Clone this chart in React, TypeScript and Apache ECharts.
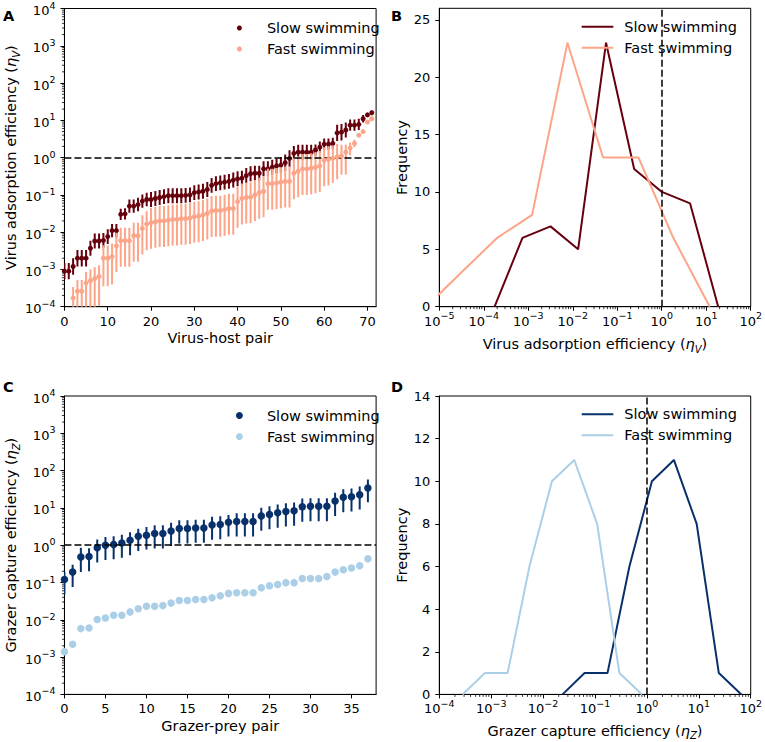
import React, { useEffect, useRef } from "react";
import * as echarts from "echarts";

const FONT = "'DejaVu Sans', sans-serif";
const TICK_FS = 13;
const SUP_FS = 9.5;
const TITLE_FS = 14.5;

const legendLabels = ["Slow swimming", "Fast swimming"];

// ---------- Panel A: virus adsorption efficiency per virus-host pair ----------
const virusSlow = [
  0.0009, 0.0009, 0.0012, 0.002, 0.002, 0.002, 0.0037, 0.0058, 0.0058, 0.006,
  0.0076, 0.011, 0.011, 0.03, 0.031, 0.05, 0.05, 0.055, 0.068, 0.075,
  0.075, 0.08, 0.085, 0.09, 0.095, 0.095, 0.095, 0.095, 0.097, 0.1,
  0.115, 0.12, 0.125, 0.14, 0.18, 0.2, 0.21, 0.22, 0.23, 0.25,
  0.27, 0.28, 0.33, 0.37, 0.38, 0.38, 0.5, 0.5, 0.55, 0.6,
  0.63, 0.73, 0.95, 1.3, 1.4, 1.4, 1.4, 1.4, 1.6, 1.9,
  2.3, 2.3, 2.4, 4.6, 4.8, 5.5, 7.4, 7.4, 7.8, 11,
  14, 16,
];
const virusFast = [
  null, null, 0.00017, 0.00026, 0.00026, 0.00043, 0.0005, 0.00057, 0.00065, 0.002,
  0.002, 0.0022, 0.0043, 0.0059, 0.0059, 0.0059, 0.008, 0.008, 0.0126, 0.0165,
  0.018, 0.019, 0.02, 0.02, 0.021, 0.022, 0.022, 0.023, 0.023, 0.024,
  0.026, 0.027, 0.029, 0.032, 0.037, 0.038, 0.038, 0.04, 0.043, 0.043,
  0.066, 0.08, 0.085, 0.087, 0.1, 0.115, 0.125, 0.2, 0.2, 0.21,
  0.22, 0.23, 0.23, 0.38, 0.43, 0.5, 0.5, 0.52, 0.55, 0.6,
  0.85, 0.9, 0.95, 1.05, 1.1, 1.4, 1.8, 2.4, 4.0, 5.0,
  9.0, 11,
];
// error bar half-widths, in decades
const virusSlowErr = [
  0.22, 0.22, 0.22, 0.22, 0.22, 0.22, 0.2, 0.2, 0.2, 0.2,
  0.2, 0.18, 0.18, 0.15, 0.15, 0.18, 0.18, 0.18, 0.18, 0.18,
  0.2, 0.2, 0.2, 0.2, 0.2, 0.2, 0.2, 0.2, 0.2, 0.2,
  0.2, 0.2, 0.2, 0.2, 0.2, 0.2, 0.2, 0.2, 0.2, 0.2,
  0.2, 0.2, 0.2, 0.2, 0.2, 0.2, 0.2, 0.2, 0.2, 0.2,
  0.22, 0.22, 0.22, 0.2, 0.2, 0.2, 0.2, 0.2, 0.15, 0.15,
  0.15, 0.15, 0.15, 0.22, 0.22, 0.2, 0.15, 0.15, 0.15, 0.1,
  0.05, 0.05,
];
const virusFastErrUp = [
  0, 0, 0.3, 0.3, 0.3, 0.3, 0.3, 0.3, 0.3, 0.35,
  0.35, 0.35, 0.35, 0.35, 0.35, 0.35, 0.35, 0.35, 0.35, 0.35,
  0.4, 0.4, 0.4, 0.4, 0.4, 0.4, 0.4, 0.4, 0.4, 0.4,
  0.4, 0.4, 0.4, 0.4, 0.4, 0.4, 0.4, 0.4, 0.4, 0.4,
  0.4, 0.4, 0.4, 0.4, 0.4, 0.4, 0.4, 0.4, 0.4, 0.4,
  0.4, 0.4, 0.4, 0.4, 0.4, 0.4, 0.4, 0.4, 0.4, 0.4,
  0.35, 0.35, 0.35, 0.35, 0.3, 0.2, 0.15, 0.1, 0.05, 0.05,
  0.05, 0.05,
];
const virusFastErrDown = [
  0, 0, 0.8, 0.8, 0.8, 0.8, 0.8, 0.8, 0.8, 0.75,
  0.75, 0.75, 0.7, 0.7, 0.7, 0.7, 0.7, 0.7, 0.7, 0.7,
  0.7, 0.7, 0.7, 0.7, 0.7, 0.7, 0.7, 0.7, 0.7, 0.7,
  0.7, 0.7, 0.7, 0.7, 0.7, 0.7, 0.7, 0.7, 0.7, 0.7,
  0.7, 0.7, 0.7, 0.7, 0.7, 0.7, 0.7, 0.7, 0.7, 0.7,
  0.7, 0.7, 0.7, 0.7, 0.7, 0.7, 0.7, 0.7, 0.7, 0.7,
  0.7, 0.7, 0.65, 0.6, 0.5, 0.6, 0.2, 0.1, 0.05, 0.05,
  0.05, 0.05,
];
const virusPairTicks = [0, 10, 20, 30, 40, 50, 60, 70];

// ---------- Panel B: histogram of virus adsorption efficiency ----------
const virusHistSlowX = [1.75e-4, 7.4e-4, 3.16e-3, 1.32e-2, 5.6e-2, 0.24, 1.01, 4.34, 18.6];
const virusHistSlowY = [0, 6, 7, 5, 23, 12, 10, 9, 0];
const virusHistFastX = [5.1e-6, 3.16e-5, 2.0e-4, 1.22e-3, 7.6e-3, 4.8e-2, 0.3, 1.82, 12.0];
const virusHistFastY = [0, 3, 6, 8, 23, 13, 13, 6, 0];
const freqTicksB = [0, 5, 10, 15, 20, 25];

// ---------- Panel C: grazer capture efficiency per grazer-prey pair ----------
const grazerSlow = [
  0.12, 0.19, 0.48, 0.5, 0.86, 1.0, 1.05, 1.15, 1.35, 1.75,
  1.85, 2.05, 2.05, 2.4, 2.8, 2.8, 2.9, 2.9, 3.5, 3.6,
  4.1, 4.3, 4.3, 4.3, 6.1, 6.7, 7.4, 8.0, 8.4, 10.7,
  11, 11, 11, 15.3, 19.2, 20, 22.6, 34,
];
const grazerFast = [
  0.0014, 0.0022, 0.0058, 0.006, 0.0102, 0.0112, 0.0133, 0.0133, 0.0163, 0.0197,
  0.023, 0.023, 0.024, 0.028, 0.033, 0.033, 0.035, 0.035, 0.039, 0.044,
  0.051, 0.053, 0.053, 0.053, 0.0725, 0.082, 0.088, 0.099, 0.099, 0.128,
  0.128, 0.128, 0.145, 0.19, 0.22, 0.245, 0.28, 0.43,
];
const grazerSlowErrUp = [
  0.2, 0.2, 0.25, 0.22, 0.22, 0.22, 0.22, 0.22, 0.22, 0.2,
  0.22, 0.22, 0.22, 0.22, 0.22, 0.22, 0.22, 0.22, 0.22, 0.22,
  0.2, 0.22, 0.22, 0.22, 0.22, 0.22, 0.22, 0.22, 0.22, 0.22,
  0.22, 0.22, 0.22, 0.22, 0.22, 0.22, 0.22, 0.23,
];
const grazerSlowErrDown = [
  0.4, 0.4, 0.4, 0.4, 0.4, 0.4, 0.4, 0.4, 0.4, 0.4,
  0.38, 0.4, 0.4, 0.4, 0.4, 0.4, 0.4, 0.4, 0.4, 0.4,
  0.38, 0.4, 0.4, 0.4, 0.4, 0.4, 0.4, 0.4, 0.4, 0.4,
  0.4, 0.4, 0.4, 0.4, 0.4, 0.4, 0.4, 0.38,
];
const grazerPairTicks = [0, 5, 10, 15, 20, 25, 30, 35];

// ---------- Panel D: histogram of grazer capture efficiency ----------
const grazerHistSlowX = [0.0237, 0.063, 0.174, 0.46, 1.25, 3.31, 9.1, 24.3, 66];
const grazerHistSlowY = [0, 1, 1, 6, 10, 11, 8, 1, 0];
const grazerHistFastX = [2.8e-4, 7.6e-4, 2.07e-3, 5.45e-3, 0.0148, 0.0398, 0.11, 0.295, 0.805];
const grazerHistFastY = [0, 1, 1, 6, 10, 11, 8, 1, 0];

const COLORS = {
  virusSlow: "#67000d",
  virusFast: "#fca588",
  grazerSlow: "#08306b",
  grazerFast: "#abcfe6",
};

// ---------------- helpers ----------------
const supLabel = (v: number) => {
  const e = Math.round(Math.log10(v));
  return `{b|10}{sup|${e < 0 ? "\u2212" + -e : e}}`;
};
const supRich = {
  b: { fontSize: TICK_FS, fontFamily: FONT, color: "#000", verticalAlign: "bottom" },
  sup: { fontSize: SUP_FS, fontFamily: FONT, color: "#000", verticalAlign: "top" },
};
const logAxisLabel = (margin: number) => ({
  formatter: supLabel,
  rich: supRich,
  lineHeight: 17,
  fontSize: TICK_FS,
  fontFamily: FONT,
  color: "#000",
  margin,
});
const plainAxisLabel = (margin: number, customValues?: number[]) => ({
  fontSize: TICK_FS,
  fontFamily: FONT,
  color: "#000",
  margin,
  ...(customValues ? { customValues } : {}),
});
const axisLine = { show: true, onZero: false, lineStyle: { color: "#000", width: 1 } };
const tick = (customValues?: number[]) => ({
  show: true,
  inside: false,
  length: 4,
  lineStyle: { color: "#000", width: 1 },
  ...(customValues ? { customValues } : {}),
});
const plainName = { fontSize: TITLE_FS, fontFamily: FONT, color: "#000" };
const subName = {
  fontSize: TITLE_FS,
  fontFamily: FONT,
  color: "#000",
  lineHeight: 20,
  rich: {
    t: { fontSize: TITLE_FS, fontFamily: FONT, color: "#000", verticalAlign: "middle" },
    i: { fontSize: TITLE_FS, fontFamily: FONT, color: "#000", fontStyle: "italic", verticalAlign: "middle" },
    s: { fontSize: 10, fontFamily: FONT, color: "#000", fontStyle: "italic", verticalAlign: "bottom" },
  },
};

const toPoints = (vals: (number | null)[]) =>
  vals.map((v, i) => (v == null ? null : [i, v])).filter((p) => p !== null) as number[][];

const errorBars = (
  idx: number,
  vals: (number | null)[],
  up: number[],
  down: number[],
  color: string,
  z: number
) => ({
  type: "custom",
  xAxisIndex: idx,
  yAxisIndex: idx,
  clip: true,
  silent: true,
  z,
  data: vals
    .map((v, i) => (v == null ? null : [i, v / Math.pow(10, down[i]), v * Math.pow(10, up[i])]))
    .filter((p) => p !== null),
  encode: { x: 0, y: [1, 2] },
  renderItem: (_p: any, api: any) => {
    const x = api.value(0);
    const a = api.coord([x, api.value(1)]);
    const b = api.coord([x, api.value(2)]);
    return {
      type: "line",
      shape: { x1: a[0], y1: a[1], x2: b[0], y2: b[1] },
      style: { stroke: color, lineWidth: 2 },
    };
  },
});

const minorTicksY = (idx: number, xMin: number, eMin: number, eMax: number) => ({
  type: "custom",
  xAxisIndex: idx,
  yAxisIndex: idx,
  clip: false,
  silent: true,
  z: 1,
  data: [[xMin, 1]],
  encode: { x: 0, y: 1 },
  renderItem: (_p: any, api: any) => {
    const children: any[] = [];
    for (let k = eMin; k < eMax; k++) {
      for (let m = 2; m <= 9; m++) {
        const p = api.coord([xMin, m * Math.pow(10, k)]);
        children.push({
          type: "line",
          shape: { x1: p[0] - 2.5, y1: p[1], x2: p[0], y2: p[1] },
          style: { stroke: "#000", lineWidth: 0.8 },
        });
      }
    }
    return { type: "group", children };
  },
});

const minorTicksX = (idx: number, yMin: number, eMin: number, eMax: number) => ({
  type: "custom",
  xAxisIndex: idx,
  yAxisIndex: idx,
  clip: false,
  silent: true,
  z: 1,
  data: [[1, yMin]],
  encode: { x: 0, y: 1 },
  renderItem: (_p: any, api: any) => {
    const children: any[] = [];
    for (let k = eMin; k < eMax; k++) {
      for (let m = 2; m <= 9; m++) {
        const p = api.coord([m * Math.pow(10, k), yMin]);
        children.push({
          type: "line",
          shape: { x1: p[0], y1: p[1], x2: p[0], y2: p[1] + 2.5 },
          style: { stroke: "#000", lineWidth: 0.8 },
        });
      }
    }
    return { type: "group", children };
  },
});

const dashed = { type: [7, 3] as any, color: "#000", width: 1.5 };
const refLine = (idx: number, spec: any) => ({
  type: "line",
  xAxisIndex: idx,
  yAxisIndex: idx,
  data: [],
  z: 10,
  silent: true,
  markLine: {
    silent: true,
    symbol: ["none", "none"],
    label: { show: false },
    lineStyle: dashed,
    data: [spec],
  },
});

const legendFmt = (name: string) => (name.endsWith("slow") ? legendLabels[0] : legendLabels[1]);
const legendText = { fontSize: TITLE_FS, fontFamily: FONT, color: "#000", lineHeight: 16 };

const L1 = 62.7;
const L2 = 439.3;
const W = 313.4;
const T1 = 8.3;
const T2 = 396;
const H = 298.4;

export default function App() {
  const ref = useRef<HTMLDivElement>(null);
  useEffect(() => {
    document.body.style.margin = "0";
    if (!ref.current) return;
    const chart = echarts.init(ref.current, undefined, { renderer: "svg" });
    const option: any = {
      animation: false,
      backgroundColor: "#fff",
      textStyle: { fontFamily: FONT },
      grid: [
        { left: L1, top: T1, width: W, height: H, show: true, borderColor: "#000", borderWidth: 1 },
        { left: L2, top: T1, width: W, height: H, show: true, borderColor: "#000", borderWidth: 1 },
        { left: L1, top: T2, width: W, height: H, show: true, borderColor: "#000", borderWidth: 1 },
        { left: L2, top: T2, width: W, height: H, show: true, borderColor: "#000", borderWidth: 1 },
      ],
      xAxis: [
        {
          gridIndex: 0, type: "value", min: 0, max: 72,
          axisLine, axisTick: tick(virusPairTicks), axisLabel: plainAxisLabel(8, virusPairTicks),
          splitLine: { show: false },
          name: "Virus-host pair", nameLocation: "middle", nameGap: 23.5, nameTextStyle: plainName,
        },
        {
          gridIndex: 1, type: "log", logBase: 10, min: 1e-5, max: 1e2,
          axisLine, axisTick: tick(), axisLabel: logAxisLabel(4),
          splitLine: { show: false }, minorTick: { show: false },
          name: "{t|Virus adsorption efficiency (}{i|\u03b7}{s|V}{t|)}", nameLocation: "middle", nameGap: 27.5,
          nameTextStyle: subName,
        },
        {
          gridIndex: 2, type: "value", min: 0, max: 38,
          axisLine, axisTick: tick(grazerPairTicks), axisLabel: plainAxisLabel(8, grazerPairTicks),
          splitLine: { show: false },
          name: "Grazer-prey pair", nameLocation: "middle", nameGap: 24, nameTextStyle: plainName,
        },
        {
          gridIndex: 3, type: "log", logBase: 10, min: 1e-4, max: 1e2,
          axisLine, axisTick: tick(), axisLabel: logAxisLabel(4),
          splitLine: { show: false }, minorTick: { show: false },
          name: "{t|Grazer capture efficiency (}{i|\u03b7}{s|Z}{t|)}", nameLocation: "middle", nameGap: 26.5,
          nameTextStyle: subName,
        },
      ],
      yAxis: [
        {
          gridIndex: 0, type: "log", logBase: 10, min: 1e-4, max: 1e4,
          axisLine, axisTick: tick(), axisLabel: logAxisLabel(9),
          splitLine: { show: false }, minorTick: { show: false },
          name: "{t|Virus adsorption efficiency (}{i|\u03b7}{s|V}{t|)}", nameLocation: "middle", nameGap: 42,
          nameRotate: 90, nameTextStyle: subName,
        },
        {
          gridIndex: 1, type: "value", min: 0, max: 26,
          axisLine, axisTick: tick(freqTicksB), axisLabel: plainAxisLabel(9, freqTicksB),
          splitLine: { show: false },
          name: "Frequency", nameLocation: "middle", nameGap: 28.5, nameRotate: 90, nameTextStyle: plainName,
        },
        {
          gridIndex: 2, type: "log", logBase: 10, min: 1e-4, max: 1e4,
          axisLine, axisTick: tick(), axisLabel: logAxisLabel(9),
          splitLine: { show: false }, minorTick: { show: false },
          name: "{t|Grazer capture efficiency (}{i|\u03b7}{s|Z}{t|)}", nameLocation: "middle", nameGap: 42,
          nameRotate: 90, nameTextStyle: subName,
        },
        {
          gridIndex: 3, type: "value", min: 0, max: 14, interval: 2,
          axisLine, axisTick: tick(), axisLabel: plainAxisLabel(9),
          splitLine: { show: false },
          name: "Frequency", nameLocation: "middle", nameGap: 28.5, nameRotate: 90, nameTextStyle: plainName,
        },
      ],
      legend: [
        {
          orient: "vertical", left: 236.9, top: 20, itemWidth: 5, itemHeight: 5, itemGap: 5, padding: 0,
          selectedMode: false, data: ["A-slow", "A-fast"], formatter: legendFmt,
          textStyle: { ...legendText, padding: [0, 0, 0, 20] },
        },
        {
          orient: "vertical", left: 581.7, top: 18.7, itemWidth: 31.6, itemHeight: 2, itemGap: 5, padding: 0,
          icon: "rect",
          selectedMode: false, data: ["B-slow", "B-fast"], formatter: legendFmt,
          textStyle: { ...legendText, padding: [0, 0, 0, 6] },
        },
        {
          orient: "vertical", left: 235.9, top: 407.5, itemWidth: 7, itemHeight: 7, itemGap: 5, padding: 0,
          selectedMode: false, data: ["C-slow", "C-fast"], formatter: legendFmt,
          textStyle: { ...legendText, padding: [0, 0, 0, 19] },
        },
        {
          orient: "vertical", left: 581.7, top: 406.3, itemWidth: 31.6, itemHeight: 2, itemGap: 5, padding: 0,
          icon: "rect",
          selectedMode: false, data: ["D-slow", "D-fast"], formatter: legendFmt,
          textStyle: { ...legendText, padding: [0, 0, 0, 6] },
        },
      ],
      graphic: [
        { type: "text", x: 3, y: 15.5, style: { text: "A", fontSize: 14.5, fontWeight: "bold", fontFamily: FONT, fill: "#000", verticalAlign: "middle" } },
        { type: "text", x: 391, y: 15.5, style: { text: "B", fontSize: 14.5, fontWeight: "bold", fontFamily: FONT, fill: "#000", verticalAlign: "middle" } },
        { type: "text", x: 3, y: 386.5, style: { text: "C", fontSize: 14.5, fontWeight: "bold", fontFamily: FONT, fill: "#000", verticalAlign: "middle" } },
        { type: "text", x: 391, y: 387, style: { text: "D", fontSize: 14.5, fontWeight: "bold", fontFamily: FONT, fill: "#000", verticalAlign: "middle" } },
      ],
      series: [
        // Panel A
        minorTicksY(0, 0, -4, 4),
        errorBars(0, virusSlow, virusSlowErr, virusSlowErr, COLORS.virusSlow, 2),
        {
          type: "scatter", name: "A-slow", xAxisIndex: 0, yAxisIndex: 0, z: 3,
          symbol: "circle", symbolSize: 5, itemStyle: { color: COLORS.virusSlow, opacity: 1 },
          data: toPoints(virusSlow), silent: true,
        },
        errorBars(0, virusFast, virusFastErrUp, virusFastErrDown, COLORS.virusFast, 4),
        {
          type: "scatter", name: "A-fast", xAxisIndex: 0, yAxisIndex: 0, z: 5,
          symbol: "circle", symbolSize: 5, itemStyle: { color: COLORS.virusFast, opacity: 1 },
          data: toPoints(virusFast), silent: true,
        },
        refLine(0, { yAxis: 1 }),
        // Panel B
        minorTicksX(1, 0, -5, 2),
        {
          type: "line", name: "B-slow", xAxisIndex: 1, yAxisIndex: 1, z: 3, symbol: "none", silent: true,
          lineStyle: { color: COLORS.virusSlow, width: 2 }, itemStyle: { color: COLORS.virusSlow },
          data: virusHistSlowX.map((x, i) => [x, virusHistSlowY[i]]),
        },
        {
          type: "line", name: "B-fast", xAxisIndex: 1, yAxisIndex: 1, z: 3, symbol: "none", silent: true,
          lineStyle: { color: COLORS.virusFast, width: 2 }, itemStyle: { color: COLORS.virusFast },
          data: virusHistFastX.map((x, i) => [x, virusHistFastY[i]]),
        },
        refLine(1, { xAxis: 1 }),
        // Panel C
        minorTicksY(2, 0, -4, 4),
        errorBars(2, grazerSlow, grazerSlowErrUp, grazerSlowErrDown, COLORS.grazerSlow, 2),
        {
          type: "scatter", name: "C-slow", xAxisIndex: 2, yAxisIndex: 2, z: 3,
          symbol: "circle", symbolSize: 7.5, itemStyle: { color: COLORS.grazerSlow, opacity: 1 },
          data: toPoints(grazerSlow), silent: true,
        },
        {
          type: "scatter", name: "C-fast", xAxisIndex: 2, yAxisIndex: 2, z: 5,
          symbol: "circle", symbolSize: 7.5, itemStyle: { color: COLORS.grazerFast, opacity: 1 },
          data: toPoints(grazerFast), silent: true,
        },
        refLine(2, { yAxis: 1 }),
        // Panel D
        minorTicksX(3, 0, -4, 2),
        {
          type: "line", name: "D-slow", xAxisIndex: 3, yAxisIndex: 3, z: 3, symbol: "none", silent: true,
          lineStyle: { color: COLORS.grazerSlow, width: 2 }, itemStyle: { color: COLORS.grazerSlow },
          data: grazerHistSlowX.map((x, i) => [x, grazerHistSlowY[i]]),
        },
        {
          type: "line", name: "D-fast", xAxisIndex: 3, yAxisIndex: 3, z: 3, symbol: "none", silent: true,
          lineStyle: { color: COLORS.grazerFast, width: 2 }, itemStyle: { color: COLORS.grazerFast },
          data: grazerHistFastX.map((x, i) => [x, grazerHistFastY[i]]),
        },
        refLine(3, { xAxis: 1 }),
      ],
    };
    chart.setOption(option);
    return () => chart.dispose();
  }, []);
  return <div ref={ref} style={{ width: 765, height: 742 }} />;
}
